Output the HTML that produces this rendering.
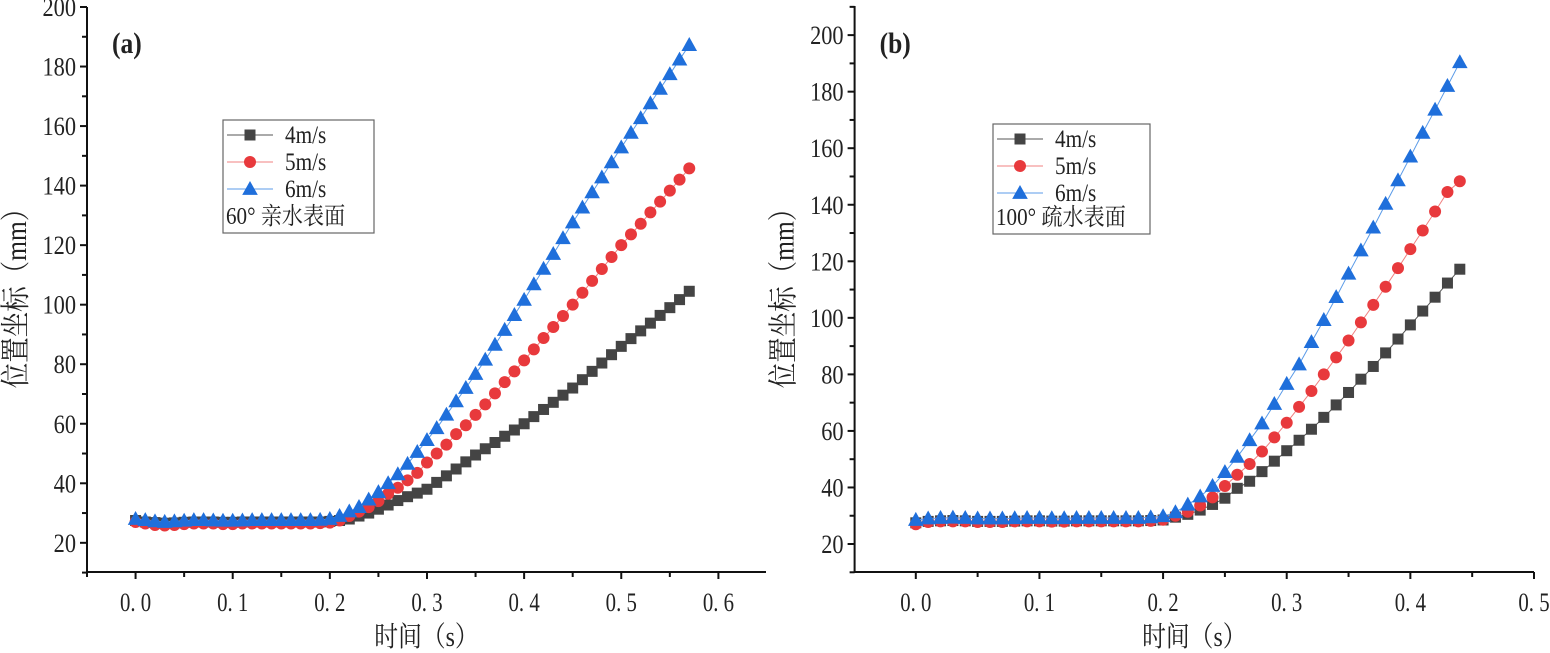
<!DOCTYPE html>
<html><head><meta charset="utf-8">
<style>
html,body{margin:0;padding:0;background:#fff;}
svg{display:block;}
text{font-family:"Liberation Serif","Noto Serif CJK SC",serif;fill:#222;}
</style></head>
<body>
<svg id="chart" width="1550" height="653" viewBox="0 0 1550 653" xmlns="http://www.w3.org/2000/svg"></svg>
<script>
// Panel (a) data
const timesA = [0,0.01,0.02,0.03,0.04,0.05,0.06,0.07,0.08,0.09,0.1,0.11,0.12,0.13,0.14,0.15,0.16,0.17,0.18,0.19,0.2,0.21,0.22,0.23,0.24,0.25,0.26,0.27,0.28,0.29,0.3,0.31,0.32,0.33,0.34,0.35,0.36,0.37,0.38,0.39,0.4,0.41,0.42,0.43,0.44,0.45,0.46,0.47,0.48,0.49,0.5,0.51,0.52,0.53,0.54,0.55,0.56,0.57];
const a4 = [27.5,27,26.8,26.6,26.7,26.9,27,27,27,26.9,26.9,27,27,27,27,27,27,27,27,27,27.2,27.5,28,29,30,31.3,32.7,34.2,35.5,36.7,38,40.3,42.5,44.8,47.2,49.5,51.6,53.7,55.8,57.9,60,62.4,64.8,67.2,69.6,72,74.8,77.6,80.4,83.2,86,88.6,91.2,93.8,96.4,99,101.7,104.5];
const a5 = [27,26.5,26,25.8,26,26.3,26.5,26.5,26.5,26.3,26.3,26.5,26.5,26.5,26.5,26.5,26.5,26.5,26.5,26.6,26.8,27.5,29,30.5,32,34,36.5,38.5,41,43.5,47,50,53,56.5,59.5,63,66.5,70.2,74,77.6,81.3,85,88.8,92.5,96.2,100,104,108,112,116,120,123.6,127.2,131,134.6,138.3,142,145.8];
const a6 = [28,27.6,27.2,27,27.2,27.4,27.6,27.6,27.5,27.4,27.4,27.5,27.6,27.6,27.6,27.6,27.6,27.6,27.6,27.7,28,29,30.5,32,34.5,37,40,43,46.5,50.5,54.5,58.5,63,67.5,72,76.7,81.5,86.5,91.5,96.5,101.6,106.8,112,117,122.3,127.6,132.6,137.7,142.7,147.8,152.8,157.7,162.6,167.6,172.5,177.4,182.3,187.2];
// Panel (b) data
const timesB = [0,0.01,0.02,0.03,0.04,0.05,0.06,0.07,0.08,0.09,0.1,0.11,0.12,0.13,0.14,0.15,0.16,0.17,0.18,0.19,0.2,0.21,0.22,0.23,0.24,0.25,0.26,0.27,0.28,0.29,0.3,0.31,0.32,0.33,0.34,0.35,0.36,0.37,0.38,0.39,0.4,0.41,0.42,0.43,0.44];
const b4 = [27.5,28,28.2,28.3,28.2,28,28,28,28.1,28.2,28.2,28.1,28.1,28.2,28.2,28.2,28.2,28.2,28.2,28.3,28.5,29.5,30.5,32,34,36.2,39.7,42.2,45.6,49.3,53,56.7,60.6,64.8,69.2,73.6,78.3,82.8,87.6,92.5,97.5,102.4,107.3,112.3,117.2];
const b5 = [27,27.8,28,28,28,27.8,27.8,27.8,28,28,28,27.9,27.9,28,28,28,28,28,28,28.2,28.6,30,31.4,33.6,36.5,40.5,44.5,48.3,52.7,57.7,62.9,68.5,74.1,80,86,92,98.4,104.6,111,117.6,124.3,130.9,137.6,144.5,148.3];
const b6 = [28.5,29,29.2,29.3,29.2,29,29,29,29.1,29.2,29.2,29.1,29.1,29.2,29.2,29.2,29.2,29.2,29.2,29.4,29.8,31.2,33.9,36.8,40.5,45.4,50.8,56.7,62.6,69.5,76.6,83.5,91.4,99.2,107.3,115.6,123.8,131.9,140.3,148.6,157,165.4,173.6,182,190.4];
const xTicksA = ["0.0","0.1","0.2","0.3","0.4","0.5","0.6"];
const xTicksB = ["0.0","0.1","0.2","0.3","0.4","0.5"];
const yTicks = ["20","40","60","80","100","120","140","160","180","200"];
const seriesNames = ["4m/s","5m/s","6m/s"];

const NS = "http://www.w3.org/2000/svg";
const svg = document.getElementById('chart');
function el(tag, attrs, parent, txt){
  const e = document.createElementNS(NS, tag);
  for (const k in attrs) e.setAttribute(k, attrs[k]);
  if (txt !== undefined) e.textContent = txt;
  (parent||svg).appendChild(e);
  return e;
}
function ctext(parent, x, y, str, size, anchor, sxScale, extra){
  const attrs = Object.assign({x:0,y:0,'text-anchor':anchor,'font-size':size,transform:`translate(${x},${y}) scale(${sxScale},1)`}, extra||{});
  return el('text', attrs, parent, str);
}
const COLORS = ["#444444","#e8393c","#1f6fdb"];
const LINECOL = ["#555555","#f08080","#5b9be8"];

function marker(g, type, cx, cy, color, s){
  let m;
  if (type===0) m = el('rect',{x:cx-s/2,y:cy-s/2,width:s,height:s,fill:color},g);
  else if (type===1) m = el('circle',{cx:cx,cy:cy,r:s/2+0.5,fill:color},g);
  else m = el('polygon',{points:`${cx},${cy-s*0.62} ${cx-s*0.6},${cy+s*0.45} ${cx+s*0.6},${cy+s*0.45}`,fill:color},g);
  return m;
}

function panel(cfg){
  const g = el('g',{});
  
  
  const {L,R,T,B,x0,x1,y0,y1} = cfg;
  const sx = v => L + (v-x0)/(x1-x0)*(R-L);
  const sy = v => B - (v-y0)/(y1-y0)*(B-T);
  const ax = el('path',{d:`M${L},${T} L${L},${B} L${R},${B}`,fill:'none',stroke:'#111','stroke-width':2},g);
  
  
  for (let v=10; v<=y1+0.01; v+=10){
    const major = (v%20===0);
    el('line',{x1:L,x2:L-(major?7:5),y1:sy(v),y2:sy(v),stroke:'#111','stroke-width':2},g);
  }
  yTicks.forEach(t=>{
    const tx = ctext(g, L-11, sy(+t)+9, t, 26, 'end', 0.86);
    
    
  });
  for (let i=-1; i<=cfg.nx*2; i++){
    const v = i*0.05;
    if (v < x0-1e-6 || v > x1+1e-6) continue;
    const major = (i%2===0);
    el('line',{x1:sx(v),x2:sx(v),y1:B,y2:B+(major?7:5),stroke:'#111','stroke-width':2},g);
  }
  cfg.xt.forEach(t=>{
    const tx = ctext(g, sx(+t), B+39, t.replace('.','. '), 26, 'middle', 0.8);
    
    
  });
  const xt = ctext(g, (L+R)/2, 646, '时间（s）', 28, 'middle', 0.85);
  
  
  const ytx = L-61, yty = 292;
  const yt = el('text',{x:0,y:0,'text-anchor':'middle','font-size':30,transform:`translate(${ytx},${yty}) rotate(-90) scale(0.85,1)`},g,'位置坐标（mm）');
  
  
  const lb = ctext(g, L+25, 53, cfg.label, 30, 'start', 0.85, {'font-weight':'bold'});
  
  
  cfg.series.forEach((ys,si)=>{
    const sg = el('g',{},g);
    
    
    const d = cfg.times.map((t,i)=>(i?'L':'M')+sx(t).toFixed(1)+','+sy(ys[i]).toFixed(1)).join(' ');
    const ln = el('path',{d:d,fill:'none',stroke:LINECOL[si],'stroke-width':1},sg);
    
    
    cfg.times.forEach((t,i)=>{
      const m = marker(sg, si, sx(t), sy(ys[i]), COLORS[si], si===2?13:11);
      
      
    });
  });
  const lg = el('g',{},g);
  
  
  const {lx,ly,lw,lh} = cfg.leg;
  el('rect',{x:lx,y:ly,width:lw,height:lh,fill:'#fff',stroke:'#666','stroke-width':1.2},lg);
  seriesNames.forEach((n,i)=>{
    const yy = ly+15+i*27;
    const le = el('g',{},lg);
    
    
    el('line',{x1:lx+4,x2:lx+50,y1:yy,y2:yy,stroke:LINECOL[i],'stroke-width':1},le);
    marker(le, i, lx+27, yy, COLORS[i], i===2?13:11);
    ctext(le, lx+62, yy+8, n, 25, 'start', 0.85);
  });
  const nt = ctext(lg, lx+3, ly+lh-9, cfg.note, 24, 'start', 0.88);
  
  
}

panel({name:'panel-a',label:'(a)',L:87,R:766,T:7,B:572,x0:-0.05,x1:0.649,y0:10.2,y1:200,nx:6,
  xt:xTicksA,times:timesA,series:[a4,a5,a6],
  leg:{lx:223,ly:120,lw:151,lh:113},note:'60° 亲水表面'});
panel({name:'panel-b',label:'(b)',L:854.6,R:1534,T:6,B:572,x0:-0.0495,x1:0.5,y0:10.1,y1:210.3,nx:5,
  xt:xTicksB,times:timesB,series:[b4,b5,b6],
  leg:{lx:993,ly:124,lw:157,lh:110},note:'100° 疏水表面'});
</script>
</body></html>
